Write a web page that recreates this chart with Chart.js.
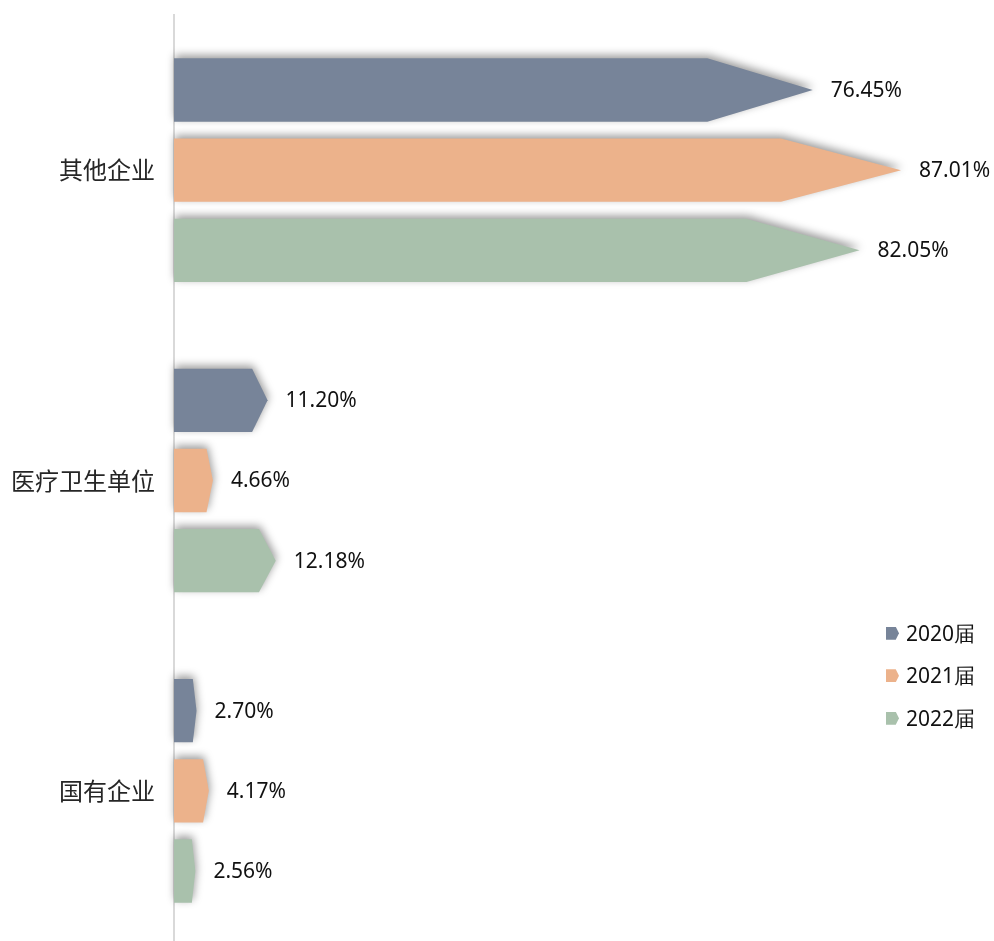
<!DOCTYPE html>
<html>
<head>
<meta charset="utf-8">
<script src="https://cdn.jsdelivr.net/npm/chart.js@4.4.0/dist/chart.umd.min.js"></script>
<style>
  body { margin: 0; background: #fff; overflow: hidden; }
  #wrap { position: relative; width: 994px; height: 941px; overflow: hidden; }
  #legend { position: absolute; left: 886px; top: 612px; font-family: "Noto Sans", sans-serif; font-size: 21px; color: #111; }
  #legend .item { height: 42.5px; display: flex; align-items: center; }
  #legend .mark { width: 13px; height: 13px; margin-right: 7px;
    clip-path: polygon(0 0, 75% 0, 100% 50%, 75% 100%, 0 100%); }
</style>
</head>
<body>
<div id="wrap">
  <canvas id="chart" width="994" height="946"></canvas>
  <div id="legend"></div>
</div>
<script>
// chart data
const categories = ['其他企业', '医疗卫生单位', '国有企业'];
const seriesNames = ['2020届', '2021届', '2022届'];
const values2020 = [76.45, 11.20, 2.70];
const values2021 = [87.01, 4.66, 4.17];
const values2022 = [82.05, 12.18, 2.56];
const seriesColors = ['#778499', '#ecb28b', '#a9c1ac'];

// draw each bar as an arrow (pentagon) with a soft shadow
const arrowBars = {
    id: 'arrowBars',
    beforeDatasetDraw(chart, args) {
        const ctx = chart.ctx;
        const color = chart.data.datasets[args.index].backgroundColor;
        args.meta.data.forEach(bar => {
            const p = bar.getProps(['x', 'y', 'base', 'height'], true);
            const len = p.x - p.base;
            const neck = p.base + len * 0.835;
            const top = p.y - p.height / 2;
            const bottom = p.y + p.height / 2;
            ctx.save();
            ctx.shadowColor = 'rgba(0,0,0,0.4)';
            ctx.shadowBlur = 8;
            ctx.shadowOffsetX = 1;
            ctx.shadowOffsetY = -3;
            ctx.fillStyle = color;
            ctx.beginPath();
            ctx.moveTo(p.base, top);
            ctx.lineTo(neck, top);
            ctx.lineTo(p.x, p.y);
            ctx.lineTo(neck, bottom);
            ctx.lineTo(p.base, bottom);
            ctx.closePath();
            ctx.fill();
            ctx.restore();
        });
        return false; // skip default rectangles
    },
    afterDatasetsDraw(chart) {
        const ctx = chart.ctx;
        ctx.save();
        ctx.font = '21px "Noto Sans", sans-serif';
        ctx.fillStyle = '#111';
        ctx.textAlign = 'left';
        ctx.textBaseline = 'middle';
        chart.data.datasets.forEach((ds, i) => {
            chart.getDatasetMeta(i).data.forEach((bar, j) => {
                const p = bar.getProps(['x', 'y'], true);
                ctx.fillText(ds.data[j].toFixed(2) + '%', p.x + 18, p.y + 1);
            });
        });
        ctx.restore();
    }
};

const allValues = [values2020, values2021, values2022];

const ctx = document.getElementById('chart').getContext('2d');
const myChart = new Chart(ctx, {
    type: 'bar',
    data: {
        labels: categories,
        datasets: seriesNames.map((name, i) => ({
            label: name,
            data: allValues[i],
            backgroundColor: seriesColors[i],
            barPercentage: 0.79,
            categoryPercentage: 0.775
        }))
    },
    options: {
        indexAxis: 'y',
        responsive: false,
        animation: false,
        devicePixelRatio: 1,
        layout: { padding: { top: 15, right: 68, bottom: 0, left: 0 } },
        plugins: {
            legend: { display: false },
            tooltip: { enabled: false }
        },
        scales: {
            x: { display: false, min: 0, max: 90 },
            y: {
                grid: { display: false, drawTicks: false },
                border: { display: true, color: '#d9d9d9', width: 2 },
                ticks: {
                    padding: 19,
                    color: '#262626',
                    font: { family: '"Noto Sans CJK SC", sans-serif', size: 24 }
                },
                afterFit(scale) {
                    scale.width = 174;
                    scale.paddingTop = 0;
                    scale.paddingBottom = 0;
                }
            }
        }
    },
    plugins: [arrowBars]
});

// legend
const legend = document.getElementById('legend');
seriesNames.forEach((name, i) => {
    const item = document.createElement('div');
    item.className = 'item';
    item.innerHTML = '<span class="mark" style="background:' + seriesColors[i] + '"></span><span>' + name + '</span>';
    legend.appendChild(item);
});
</script>
</body>
</html>
